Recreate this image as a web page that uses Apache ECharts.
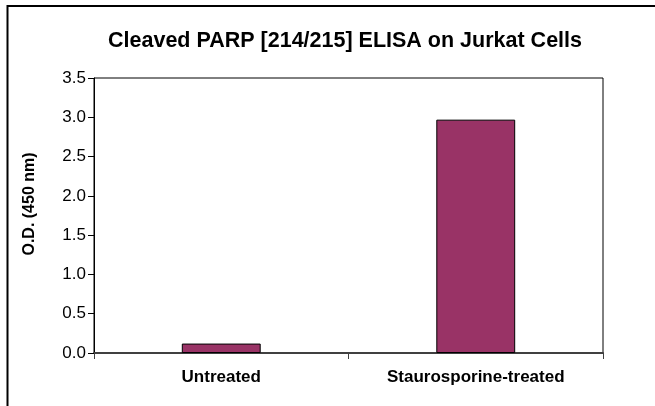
<!DOCTYPE html>
<html>
<head>
<meta charset="utf-8">
<script src="https://cdn.jsdelivr.net/npm/echarts@6/dist/echarts.min.js"></script>
<style>
  html, body { margin: 0; padding: 0; background: #fff; }
  #chart { width: 655px; height: 406px; }
</style>
</head>
<body>
<div id="chart"></div>
<script>
// Chart data
const categories = ['Untreated', 'Staurosporine-treated'];
const odValues = [0.12, 2.97];
const yTicks = { min: 0, max: 3.5, step: 0.5 };

const FONT = '"Liberation Sans", Arial, Helvetica, sans-serif';

const chart = echarts.init(document.getElementById('chart'), null, { renderer: 'canvas' });

chart.setOption({
  backgroundColor: '#ffffff',
  animation: false,
  title: {
    text: 'Cleaved PARP [214/215] ELISA on Jurkat Cells',
    left: 340,
    top: 25,
    textAlign: 'center',
    textStyle: { fontFamily: FONT, fontSize: 21.5, fontWeight: 'bold', color: '#000' }
  },
  grid: {
    left: 94,
    right: 52,
    top: 78,
    bottom: 53,
    show: true,
    borderColor: '#000',
    borderWidth: 1,
    containLabel: false
  },
  xAxis: {
    type: 'category',
    data: categories,
    axisLine: { lineStyle: { color: '#404040', width: 2 } },
    axisTick: { show: true, length: 6, lineStyle: { color: '#404040', width: 1 } },
    axisLabel: { fontFamily: FONT, fontSize: 17, fontWeight: 'bold', color: '#000', margin: 16 }
  },
  yAxis: {
    type: 'value',
    min: yTicks.min,
    max: yTicks.max,
    interval: yTicks.step,
    axisLine: { show: true, lineStyle: { color: '#000', width: 1 } },
    axisTick: { show: true, length: 6, lineStyle: { color: '#000', width: 1 } },
    splitLine: { show: false },
    axisLabel: {
      fontFamily: FONT, fontSize: 17, color: '#000', margin: 8,
      formatter: v => v.toFixed(1)
    }
  },
  series: [{
    type: 'bar',
    data: odValues,
    barCategoryGap: '69%',
    itemStyle: { color: '#993366', borderColor: '#000', borderWidth: 1 }
  }],
  graphic: [
    // outer chart frame (top and left edges)
    {
      type: 'polyline',
      shape: { points: [[7.5, 406], [7.5, 6], [655, 6]] },
      style: { stroke: '#000', lineWidth: 2, fill: null },
      silent: true
    },
    // y-axis title
    {
      type: 'text',
      x: 30,
      y: 204,
      rotation: Math.PI / 2,
      style: {
        text: 'O.D. (450 nm)',
        font: 'bold 16px ' + FONT,
        fill: '#000',
        textAlign: 'center',
        textVerticalAlign: 'middle'
      }
    }
  ]
});
</script>
</body>
</html>
